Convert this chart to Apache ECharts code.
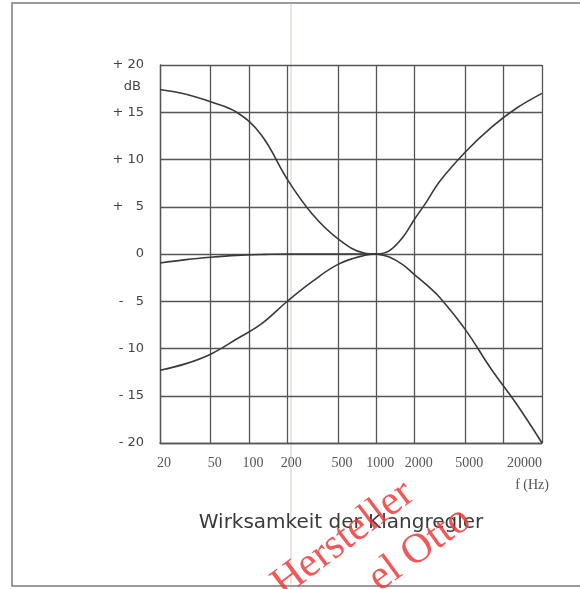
<!DOCTYPE html>
<html>
<head>
<meta charset="utf-8">
<title>Wirksamkeit der Klangregler</title>
<script src="https://cdn.jsdelivr.net/npm/echarts@6/dist/echarts.min.js"></script>
<style>
  html, body { margin: 0; padding: 0; background: #fff; }
  #chart { width: 580px; height: 589px; }
</style>
</head>
<body>
<div id="chart"></div>
<script>
// grid lines / labels of the frequency axis (Hz)
const gridFreqs = [20, 50, 100, 200, 500, 1000, 2000, 5000, 10000, 20000]
const labelFreqs = [20, 50, 100, 200, 500, 1000, 2000, 5000, 20000]
// dB axis
const dbTicks = [20, 15, 10, 5, 0, -5, -10, -15, -20]
const dbLabels = ['+ 20', '+ 15', '+ 10', '+   5', '0', '-   5', '- 10', '- 15', '- 20']

// Bass: Anhebung, Mittelstellung, Absenkung
const bassFreq = [20, 32, 50, 80, 125, 200, 315, 500, 800, 1000]
const bassBoost = [17.4, 16.9, 16.1, 15.0, 12.6, 7.9, 4.2, 1.6, 0.1, 0]
const bassCut = [-12.3, -11.6, -10.6, -9.0, -7.4, -5.0, -2.9, -1.1, -0.15, 0]
const flatFreq = [20, 32, 50, 80, 125, 200, 500, 1000]
const flatDb = [-0.95, -0.6, -0.35, -0.15, -0.05, 0, 0, 0]

// Hoehen: Anhebung, Absenkung
const trebleFreq = [1000, 1250, 1600, 2000, 2500, 3150, 5000, 8000, 12500, 20000]
const trebleBoost = [0, 0.3, 1.7, 3.7, 5.6, 7.7, 10.8, 13.4, 15.4, 17.0]
const trebleCut = [0, -0.3, -1.1, -2.2, -3.3, -4.6, -8.0, -12.2, -15.8, -20]

const lineColor = '#3a3a3a'
const gridColor = '#555'

function pairs (xs, ys) {
  return xs.map((x, i) => [x, ys[i]])
}

function curve (name, xs, ys) {
  return {
    name: name,
    type: 'line',
    smooth: 0.4,
    symbol: 'none',
    silent: true,
    lineStyle: {color: lineColor, width: 1.6},
    data: pairs(xs, ys)
  }
}

const chart = echarts.init(document.getElementById('chart'), null, {renderer: 'canvas'})

chart.setOption({
  animation: false,
  backgroundColor: '#fff',
  grid: {left: 160, right: 38, top: 65, bottom: 146, containLabel: false, outerBoundsMode: 'none'},
  xAxis: {
    type: 'log',
    logBase: 10,
    min: 20,
    max: 20000,
    axisLine: {show: true, onZero: false, lineStyle: {color: gridColor, width: 1.3}},
    axisTick: {show: false, customValues: gridFreqs},
    splitLine: {show: true, lineStyle: {color: gridColor, width: 1.3}},
    minorSplitLine: {show: false},
    axisLabel: {
      customValues: labelFreqs,
      formatter: v => String(Math.round(v)),
      margin: 13,
      padding: [0, 0, 0, 8],
      alignMaxLabel: 'right',
      color: '#555',
      fontFamily: 'Liberation Serif',
      fontSize: 14
    }
  },
  yAxis: {
    type: 'value',
    min: -20,
    max: 20,
    interval: 5,
    axisLine: {show: true, onZero: false, lineStyle: {color: gridColor, width: 1.3}},
    axisTick: {show: false},
    splitLine: {show: true, lineStyle: {color: gridColor, width: 1.3}},
    axisLabel: {
      formatter: v => dbLabels[dbTicks.indexOf(v)],
      margin: 16,
      padding: [0, 0, 7, 0],
      color: '#444',
      fontFamily: 'DejaVu Sans',
      fontSize: 13
    }
  },
  series: [
    curve('Bass +', bassFreq, bassBoost),
    curve('Bass 0', flatFreq, flatDb),
    curve('Bass -', bassFreq, bassCut),
    curve('Hoehen +', trebleFreq, trebleBoost),
    curve('Hoehen -', trebleFreq, trebleCut)
  ],
  graphic: [
    {
      type: 'rect',
      shape: {x: 12, y: 3, width: 620, height: 583},
      style: {fill: 'none', stroke: '#7a7a7a', lineWidth: 1.5},
      silent: true
    },
    {
      type: 'line',
      shape: {x1: 291, y1: 3, x2: 291, y2: 589},
      style: {stroke: 'rgba(190,185,160,0.45)', lineWidth: 1.5},
      silent: true
    },
    {
      type: 'text',
      x: 141,
      y: 87,
      style: {text: 'dB', fill: '#444', font: '13px "DejaVu Sans"', align: 'right', verticalAlign: 'middle'}
    },
    {
      type: 'text',
      x: 549,
      y: 485,
      style: {text: 'f (Hz)', fill: '#555', font: '14px "Liberation Serif"', align: 'right', verticalAlign: 'middle'}
    },
    {
      type: 'text',
      x: 341,
      y: 523,
      style: {text: 'Wirksamkeit der Klangregler', fill: '#3a3a3a', font: '20px "DejaVu Sans"', align: 'center', verticalAlign: 'middle'}
    },
    // roter Stempel
    {
      type: 'text',
      x: 277,
      y: 589,
      rotation: 37 * Math.PI / 180,
      z: 100,
      style: {text: 'Hersteller', fill: 'rgba(236,60,60,0.85)', font: '42px "Liberation Serif"', align: 'left', verticalAlign: 'middle'}
    },
    {
      type: 'text',
      x: 373,
      y: 583,
      rotation: 36 * Math.PI / 180,
      z: 100,
      style: {text: 'el Otto', fill: 'rgba(236,60,60,0.85)', font: '42px "Liberation Serif"', align: 'left', verticalAlign: 'middle'}
    }
  ]
})
</script>
</body>
</html>
